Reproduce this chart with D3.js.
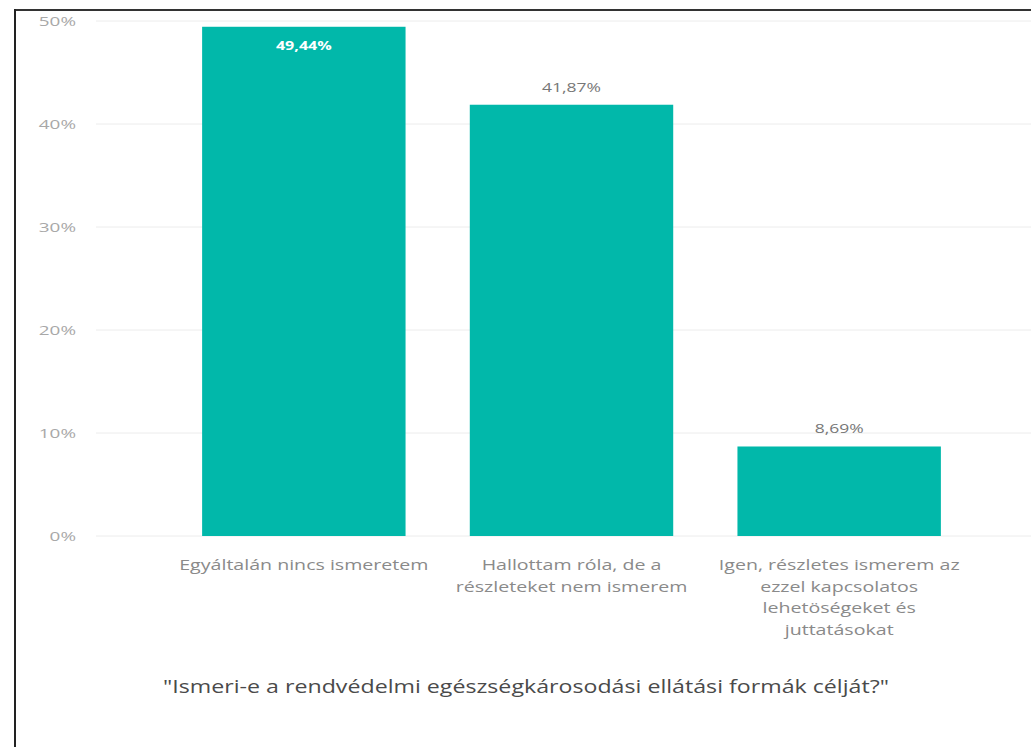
<!DOCTYPE html>
<html><head><meta charset="utf-8">
<script src="https://cdn.jsdelivr.net/npm/d3@7"></script>
<style>body{margin:0;background:#fff;}svg{display:block;}</style>
</head><body>
<svg id="c" width="1031" height="747"></svg>
<script>
const categories = [
  ["Egyáltalán nincs ismeretem"],
  ["Hallottam róla, de a", "részleteket nem ismerem"],
  ["Igen, részletes ismerem az", "ezzel kapcsolatos", "lehetöségeket és", "juttatásokat"]
];
const values = [49.44, 41.87, 8.69];
const valueLabels = ["49,44%", "41,87%", "8,69%"];
const yTicks = [0, 10, 20, 30, 40, 50];
const title = "\"Ismeri-e a rendvédelmi egészségkárosodási ellátási formák célját?\"";

const svg = d3.select("#c");
const font = "'Open Sans', sans-serif";
const SX = 1.4; // horizontal stretch of the source picture's text

// frame
svg.append("line").attr("x1",15).attr("x2",1031).attr("y1",10).attr("y2",10).attr("stroke","#333").attr("stroke-width",2);
svg.append("line").attr("x1",15).attr("x2",15).attr("y1",9).attr("y2",747).attr("stroke","#222").attr("stroke-width",2);

const x = d3.scaleBand().domain(d3.range(categories.length)).range([170, 973]).paddingInner(0.24).paddingOuter(0.12);
const y = d3.scaleLinear().domain([0, 50]).range([536, 21]);

const g = svg.append("g");
g.selectAll(".grid").data(yTicks).join("line").attr("class","grid")
  .attr("x1",96).attr("x2",1031).attr("y1",d=>y(d)).attr("y2",d=>y(d))
  .attr("stroke","#ececec").attr("stroke-width",1);

const yAxis = d3.axisLeft(y).tickValues(yTicks).tickFormat(d => d + "%").tickSize(0).tickPadding(0);
const ya = g.append("g").attr("transform","translate(76,0)").call(yAxis);
ya.select(".domain").remove();
ya.selectAll(".tick text").attr("font-family",font).attr("font-size",13.5).attr("fill","#a8a8a8")
  .attr("dy","0.36em").attr("transform",`scale(${SX},1)`);

g.selectAll(".bar").data(values).join("rect").attr("class","bar")
  .attr("x",(d,i)=>x(i)).attr("width",x.bandwidth())
  .attr("y",d=>y(d)).attr("height",d=>y(0)-y(d)).attr("fill","#01B8AA");

g.selectAll(".vl").data(values).join("g").attr("class","vl")
  .attr("transform",(d,i)=>`translate(${x(i)+x.bandwidth()/2},${i===0 ? y(d)+23 : y(d)-13}) scale(${SX},1)`)
  .append("text")
  .attr("text-anchor","middle").attr("font-family",font).attr("font-size",(d,i)=> i===0 ? 11.5 : 12.5)
  .attr("font-weight",(d,i)=> i===0 ? "bold" : "normal")
  .attr("fill",(d,i)=> i===0 ? "#ffffff" : "#777")
  .text((d,i)=>valueLabels[i]);

const cg = g.selectAll(".cat").data(categories).join("g").attr("class","cat")
  .attr("transform",(d,i)=>`translate(${x(i)+x.bandwidth()/2},570) scale(${SX},1)`);
cg.append("text").attr("text-anchor","middle").attr("font-family",font).attr("font-size",14).attr("fill","#8a8a8a")
  .selectAll("tspan").data(d=>d).join("tspan")
  .attr("x",0).attr("y",(d,i)=> i*21.7).text(d=>d);

svg.append("g").attr("transform","translate(526,693) scale(1.22,1)")
  .append("text").attr("text-anchor","middle")
  .attr("font-family",font).attr("font-size",19).attr("fill","#4a4a4a").text(title);
</script>
</body></html>
